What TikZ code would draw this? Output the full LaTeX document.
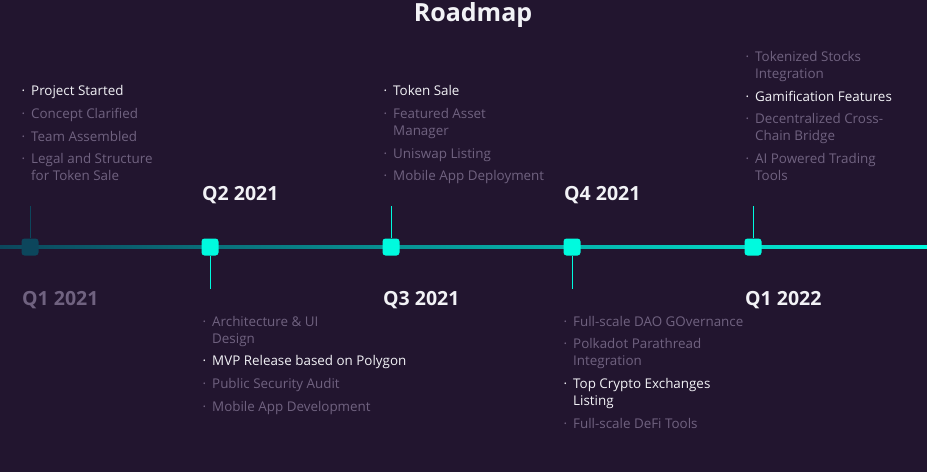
\documentclass[tikz,border=0pt]{standalone}
\usepackage{fontspec}
\setmainfont{Open Sans}
\definecolor{bg}{RGB}{34,21,47}
\definecolor{txtgrey}{RGB}{112,98,128}
\definecolor{txtwhite}{RGB}{242,242,246}
\definecolor{cyanb}{RGB}{0,250,222}
\definecolor{tealdark}{RGB}{12,70,92}
\tikzset{
  itemtxt/.style={anchor=base west, inner sep=0pt, align=left, font=\fontsize{13.4}{17}\selectfont, text=txtgrey},
  hi/.style={text=txtwhite},
  qlabel/.style={anchor=west, inner sep=0pt, font=\fontsize{19.5}{22}\bfseries\selectfont, text=txtwhite},
  marker/.style={draw=none, fill=cyanb, minimum size=17pt, inner sep=0pt, rounded corners=3pt},
  tick/.style={draw=cyanb, line width=1pt}
}
\newcommand{\bul}{\llap{·\hspace{6pt}}}
\begin{document}
\begin{tikzpicture}[x=1pt,y=-1pt]
\fill[bg] (0,0) rectangle (927,472);
\useasboundingbox (0,0) rectangle (927,472);
\node[anchor=center, inner sep=0pt, font=\fontsize{25}{28}\bfseries\selectfont, text=txtwhite] (title) at (473,15) {Roadmap};
% timeline
\coordinate (tl) at (0,247);
\coordinate (tr) at (927,247);
\shade[left color=tealdark, right color=cyanb] (0,245.5) rectangle (927,248.5);
% markers
\node[marker, fill=tealdark] (m1) at (30,247) {};
\node[marker] (m2) at (210,247) {};
\node[marker] (m3) at (391,247) {};
\node[marker] (m4) at (572,247) {};
\node[marker] (m5) at (753,247) {};
\coordinate (t1) at (30,206);
\coordinate (t2) at (210,289);
\coordinate (t3) at (391,206);
\coordinate (t4) at (572,289);
\coordinate (t5) at (753,206);
\draw[tick, draw=tealdark] (m1.north) -- (t1);
\draw[tick] (m2.south) -- (t2);
\draw[tick] (m3.north) -- (t3);
\draw[tick] (m4.south) -- (t4);
\draw[tick] (m5.north) -- (t5);
% quarter labels
\node[qlabel, text=txtgrey] (q1) at (22,300) {Q1 2021};
\node[qlabel] (q2) at (202,195) {Q2 2021};
\node[qlabel] (q3) at (383,300) {Q3 2021};
\node[qlabel] (q4) at (564,195) {Q4 2021};
\node[qlabel] (q5) at (745,300) {Q1 2022};
% Q1 2021 items
\node[itemtxt, hi] (a1) at (31,95) {\bul Project Started};
\node[itemtxt] (a2) at (31,118) {\bul Concept Clarified};
\node[itemtxt] (a3) at (31,141) {\bul Team Assembled};
\node[itemtxt] (a4) at (31,180) {\bul Legal and Structure\\for Token Sale};
% Q2 2021 items
\node[itemtxt] (b1) at (212,343) {\bul Architecture \& UI\\Design};
\node[itemtxt, hi] (b2) at (212,365) {\bul MVP Release based on Polygon};
\node[itemtxt] (b3) at (212,388) {\bul Public Security Audit};
\node[itemtxt] (b4) at (212,411) {\bul Mobile App Development};
% Q3 2021 items
\node[itemtxt, hi] (c1) at (393,95) {\bul Token Sale};
\node[itemtxt] (c2) at (393,135) {\bul Featured Asset\\Manager};
\node[itemtxt] (c3) at (393,158) {\bul Uniswap Listing};
\node[itemtxt] (c4) at (393,180) {\bul Mobile App Deployment};
% Q4 2021 items
\node[itemtxt] (d1) at (573,326) {\bul Full-scale DAO GOvernance};
\node[itemtxt] (d2) at (573,365) {\bul Polkadot Parathread\\Integration};
\node[itemtxt, hi] (d3) at (573,405) {\bul Top Crypto Exchanges\\Listing};
\node[itemtxt] (d4) at (573,428) {\bul Full-scale DeFi Tools};
% Q1 2022 items
\node[itemtxt] (e1) at (755,78) {\bul Tokenized Stocks\\Integration};
\node[itemtxt, hi] (e2) at (755,101) {\bul Gamification Features};
\node[itemtxt] (e3) at (755,140) {\bul Decentralized Cross-\\Chain Bridge};
\node[itemtxt] (e4) at (755,180) {\bul AI Powered Trading\\Tools};
\end{tikzpicture}
\end{document}
